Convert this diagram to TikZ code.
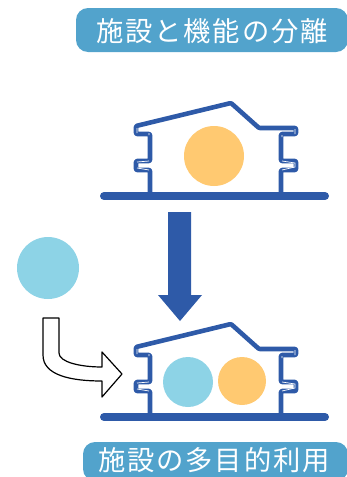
\documentclass[tikz,border=0pt]{standalone}
\usepackage{fontspec}
\usepackage{tikz}
\usetikzlibrary{shapes.arrows}
\newfontfamily\jpfont[LetterSpace=7]{Noto Sans CJK JP}
\definecolor{housblue}{RGB}{46,90,168}
\definecolor{tagblue}{RGB}{82,163,204}
\definecolor{softblue}{RGB}{141,211,230}
\definecolor{softorange}{RGB}{255,201,113}

\begin{document}
\begin{tikzpicture}[x=1pt,y=-1pt,
disc/.style={circle,inner sep=0pt,fill=#1},
tag/.style={white,font=\jpfont\fontsize{27.3}{27.3}\selectfont,inner sep=0pt},
tagbox/.style={fill=tagblue,rounded corners=12pt},
wall/.style={housblue,line width=4.6pt,line join=round,rounded corners=1pt},
seam/.style={white,line width=.7pt},
ground/.style={housblue,line width=8pt,line cap=round},
house/.pic={
\draw[ground] (104,196) -- (325,196);
\draw[wall] (150,196) -- (150,170) -- (136,170) -- (136,161) -- (150,161) -- (150,134) -- (136,134) -- (136,126)
  -- (231,103) -- (259,128) -- (296,128) -- (296,134) -- (281,134) -- (281,161) -- (296,161) -- (296,170) -- (281,170) -- (281,196);
\draw[seam] (137,128) -- (137,133) (149,133) -- (149,135) (137,162) -- (149,161) (137,168) -- (149,170);
\draw[seam] (295,129) -- (295,134) (282,135) -- (282,137) (282,161) -- (295,163) -- (295,167) -- (282,170);
}]
\useasboundingbox (0,0) rectangle (347,477);
% labels
\fill[tagbox] (76,8) rectangle (348,52);
\node[tag] (top) at (212,31) {施設と機能の分離};
\fill[tagbox] (83,442) rectangle (348,481);
\node[tag] (bottom) at (214,460) {施設の多目的利用};
% before
\pic at (0,0) {house};
\node[disc=softorange,minimum size=60pt] (used) at (214,156) {};
% big arrow
\fill[housblue] (168,212) -- (191,212) -- (191,295) -- (202,295) -- (180,321) -- (158,295) -- (168,295) -- cycle;
% after
\pic at (0,221) {house};
\node[disc=softblue,minimum size=50pt] (newuse) at (188,382) {};
\node[disc=softorange,minimum size=48pt] (olduse) at (242,381) {};
\node[disc=softblue,minimum size=62pt] (extra) at (48,268) {};
% curved arrow
\draw[black,line width=1.2pt,fill=white,line join=round] (43,318) -- (59,318) -- (59,353) .. controls (59,362) and (80,367) .. (102,367)
  -- (102,352) -- (122,374) -- (102,397) -- (102,381) .. controls (70,381) and (43,375) .. (43,355) -- cycle;
\end{tikzpicture}
\end{document}
